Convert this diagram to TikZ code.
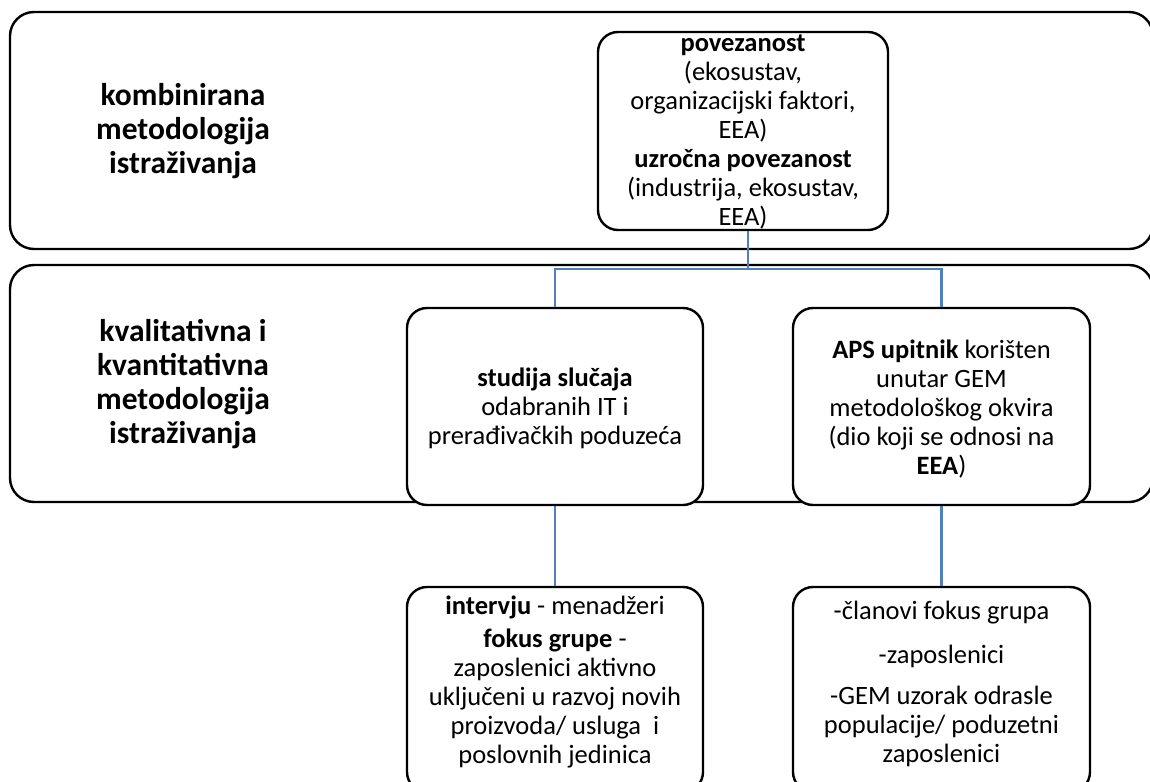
\documentclass[tikz,border=0pt]{standalone}
\usepackage{fontspec}
\setmainfont{Carlito}
\begin{document}
\begin{tikzpicture}[x=1pt,y=-1pt,
  bigbox/.style={draw=black, line width=2.4pt, rounded corners=24pt, inner sep=0pt},
  childbox/.style={draw=black, line width=2.4pt, rounded corners=20pt, fill=white, inner sep=0pt, minimum width=296pt},
  txt/.style={align=center, inner sep=0pt, font=\fontsize{26.5}{29}\selectfont},
  lbl/.style={align=center, inner sep=0pt, font=\fontsize{31.5}{34}\selectfont\bfseries},
  conn/.style={draw={rgb,255:red,79;green,129;blue,189}, line width=2.6pt}]
\useasboundingbox (0,0) rectangle (1150,781);
% big bands
\node[bigbox, minimum width=1143pt, minimum height=237pt] (band1) at (581.5,130.5) {};
\node[bigbox, minimum width=1143pt, minimum height=237pt] (band2) at (581.5,383.5) {};
\node[lbl] (lbl1) at (183,131) {kombinirana\\metodologija\\istraživanja};
\node[lbl] (lbl2) at (183,384) {kvalitativna i\\kvantitativna\\metodologija\\istraživanja};
% top node
\node[childbox, minimum width=290pt, minimum height=198pt] (top) at (743,131) {};
\node[txt] (toptxt) at (743,132) {\textbf{povezanost}\\(ekosustav,\\organizacijski faktori,\\EEA)\\\textbf{uzročna povezanost}\\(industrija, ekosustav,\\EEA)};
% middle nodes
\node[childbox, minimum height=197pt] (stud) at (555,406.5) {};
\node[txt] (studtxt) at (555,408) {\textbf{studija slučaja}\\odabranih IT i\\prerađivačkih poduzeća};
\node[childbox, minimum width=297pt, minimum height=197pt] (aps) at (941.5,406.5) {};
\node[txt] (apstxt) at (941.5,409) {\textbf{APS upitnik} korišten\\unutar GEM\\metodološkog okvira\\(dio koji se odnosi na\\\textbf{EEA})};
% bottom nodes
\node[childbox, minimum height=205pt] (intv) at (555,689.5) {};
\node[txt] (intvtxt) at (555,682) {\textbf{intervju} - menadžeri\\[4pt]\textbf{fokus grupe} -\\zaposlenici aktivno\\uključeni u razvoj novih\\proizvoda/ usluga\ \ i\\poslovnih jedinica};
\node[childbox, minimum width=297pt, minimum height=205pt] (grp) at (941.5,689.5) {};
\node[txt] (grptxt) at (941.5,684) {-članovi fokus grupa\\[15pt]-zaposlenici\\[12pt]-GEM uzorak odrasle\\populacije/ poduzetni\\zaposlenici};
% connectors
\coordinate (j) at (748,269);
\draw[conn] (top.south -| j) -- (j);
\draw[conn] (stud.north) |- (j) -| (aps.north);
\draw[conn] (stud.south) -- (intv.north);
\draw[conn] (aps.south) -- (grp.north);
\end{tikzpicture}
\end{document}
